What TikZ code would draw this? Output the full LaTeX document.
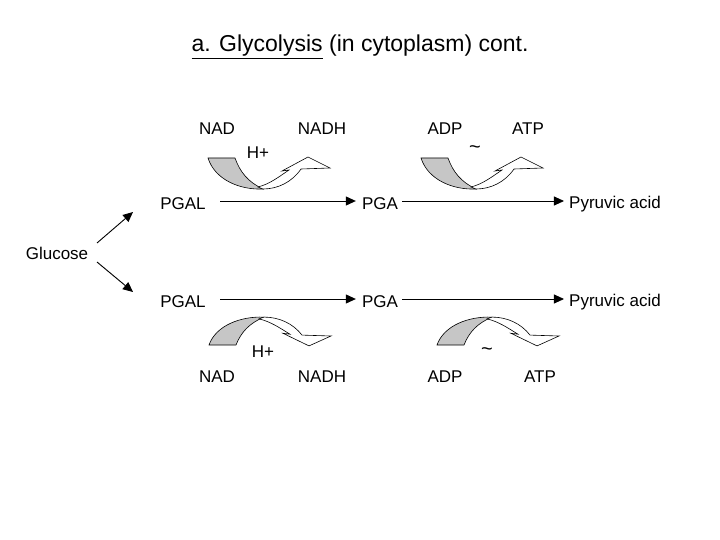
\documentclass[tikz,border=0pt]{standalone}
\usepackage{fontspec}
\setmainfont{Liberation Sans}
\usetikzlibrary{arrows.meta}
\begin{document}
\begin{tikzpicture}[x=1pt,y=-1pt,
  lbl/.style={font=\fontsize{17}{20}\selectfont,inner sep=1pt},
  rx/.style={-{Triangle[length=10pt,width=9pt]},line width=0.9pt},
  grey/.style={fill=gray!45,draw=black,line width=0.6pt},
  wht/.style={fill=white,draw=black,line width=0.6pt}]
\useasboundingbox (0,0) rectangle (720,540);
\newcommand{\uarrow}{%
  \draw[grey] (0,0) -- (27,0) .. controls (32,14) and (40,24) .. (55,31) .. controls (32,32) and (7,22) .. (0,0) -- cycle;
  \draw[wht] (50,29) .. controls (62,26) and (72,18) .. (81,12) -- (74,13) -- (100,-1) -- (122,10) -- (93,11) .. controls (84,24) and (70,31) .. (55,31) -- cycle;}
\node[font=\fontsize{23}{26}\selectfont] (title) at (360,47) {\underline{a. Glycolysis} (in cytoplasm) cont.};
\begin{scope}[shift={(208,158)}]\uarrow\end{scope}
\begin{scope}[shift={(421,158)}]\uarrow\end{scope}
\begin{scope}[shift={(209,345)},yscale=-0.9]\uarrow\end{scope}
\begin{scope}[shift={(437,345)},yscale=-0.9]\uarrow\end{scope}
\node[lbl] (nad1) at (217,129) {NAD};
\node[lbl] (nadh1) at (322,129) {NADH};
\node[lbl] (h1) at (258,153) {H+};
\node[lbl,font=\fontsize{20}{20}\selectfont] (t1) at (475,150) {\char`~};
\node[lbl] (adp1) at (445,129) {ADP};
\node[lbl] (atp1) at (528,129) {ATP};
\node[lbl] (pgal1) at (183,204) {PGAL};
\node[lbl] (pga1) at (380,204) {PGA};
\node[lbl] (pyr1) at (615,204) {Pyruvic acid};
\node[lbl] (glu) at (57,253) {Glucose};
\node[lbl] (pgal2) at (183,302) {PGAL};
\node[lbl] (pga2) at (380,302) {PGA};
\node[lbl] (pyr2) at (615,302) {Pyruvic acid};
\node[lbl] (h2) at (263,352) {H+};
\node[lbl,font=\fontsize{20}{20}\selectfont] (t2) at (487,352) {\char`~};
\node[lbl] (nad2) at (217,377) {NAD};
\node[lbl] (nadh2) at (322,377) {NADH};
\node[lbl] (adp2) at (445,377) {ADP};
\node[lbl] (atp2) at (540,377) {ATP};
\coordinate (e1) at (133,212);
\coordinate (e2) at (133,292);
\coordinate (g1) at (97,243);
\coordinate (g2) at (97,262);
\draw[rx] (220,201) coordinate (a1) -- ([xshift=-5pt]pga1.west |- a1);
\draw[rx] (402,201) coordinate (a2) -- ([xshift=-4pt]pyr1.west |- a2);
\draw[rx] (220,299) coordinate (a3) -- ([xshift=-5pt]pga2.west |- a3);
\draw[rx] (402,299) coordinate (a4) -- ([xshift=-4pt]pyr2.west |- a4);
\draw[rx] (g1) -- (e1);
\draw[rx] (g2) -- (e2);
\end{tikzpicture}
\end{document}
